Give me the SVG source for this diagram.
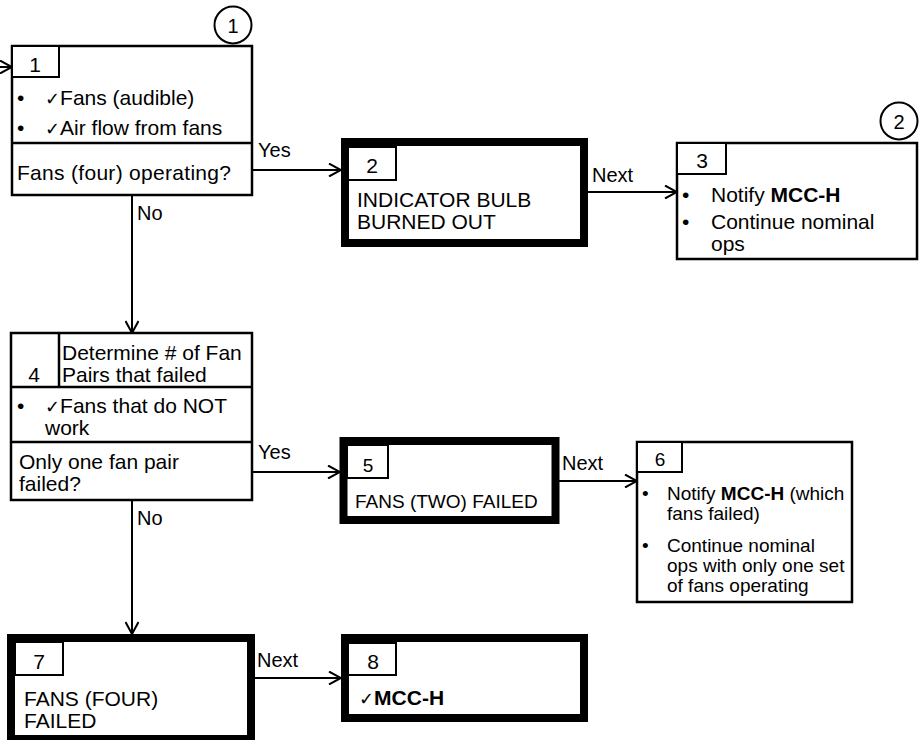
<svg xmlns="http://www.w3.org/2000/svg" width="919" height="740" viewBox="0 0 919 740">
<defs>
<marker id="arr" viewBox="0 0 14 14" refX="13" refY="7" markerWidth="14" markerHeight="14" markerUnits="userSpaceOnUse" orient="auto">
<path d="M1,0.5 L13,7 L1,13.5" fill="none" stroke="#000" stroke-width="2"/>
</marker>
<style>
text{font-family:"Liberation Sans",Arial,sans-serif;fill:#000}
.t{font-size:21px}
.s{font-size:19px}
.l{font-size:20px}
.c{text-anchor:middle}
.b{font-weight:bold}
.ck{font-family:"DejaVu Sans",sans-serif;font-size:18px;font-weight:normal}
.box{fill:#fff;stroke:#000;stroke-width:2.5}
.thick{fill:#fff;stroke:#000;stroke-width:8}
.tab{fill:#fff;stroke:#000;stroke-width:2}
.ln{fill:none;stroke:#000;stroke-width:2.5}
.con{fill:none;stroke:#000;stroke-width:2;marker-end:url(#arr)}
.circ{fill:#fff;stroke:#000;stroke-width:2}
</style>
</defs>
<rect width="919" height="740" fill="#fff"/>

<g id="connectors">
<line class="con" x1="0" y1="67" x2="12" y2="67"/>
<line class="con" x1="252" y1="170" x2="341" y2="170"/>
<text class="l" x="258" y="157">Yes</text>
<line class="con" x1="132" y1="195" x2="132" y2="333"/>
<text class="l" x="137" y="220">No</text>
<line class="con" x1="588" y1="192" x2="677" y2="192"/>
<text class="l" x="592" y="182">Next</text>
<line class="con" x1="252" y1="472" x2="340" y2="472"/>
<text class="l" x="258" y="459">Yes</text>
<line class="con" x1="132" y1="500" x2="132" y2="634"/>
<text class="l" x="137" y="525">No</text>
<line class="con" x1="559" y1="481" x2="637" y2="481"/>
<text class="l" x="562" y="470">Next</text>
<line class="con" x1="255" y1="678" x2="341" y2="678"/>
<text class="l" x="257" y="667">Next</text>
</g>

<g id="node1">
<rect class="box" x="12" y="46" width="240" height="149"/>
<rect class="tab" x="12" y="46" width="47" height="31"/>
<text class="t c" x="35" y="72">1</text>
<text class="t" x="17" y="105">•</text>
<text class="t" x="45" y="105"><tspan class="ck">✓</tspan>Fans (audible)</text>
<text class="t" x="17" y="135">•</text>
<text class="t" x="45" y="135"><tspan class="ck">✓</tspan>Air flow from fans</text>
<line class="ln" x1="12" y1="143" x2="252" y2="143"/>
<text class="t" x="17" y="180" textLength="214">Fans (four) operating?</text>
</g>
<g id="ref1">
<circle class="circ" cx="233" cy="25" r="18.5"/>
<text class="l c" x="233" y="33">1</text>
</g>

<g id="node2">
<rect class="thick" x="345" y="142" width="239" height="101"/>
<rect class="tab" x="348" y="147" width="48" height="33"/>
<text class="t c" x="372" y="173">2</text>
<text class="t" x="357" y="207">INDICATOR BULB</text>
<text class="t" x="357" y="229">BURNED OUT</text>
</g>

<g id="node3">
<rect class="box" x="677" y="143" width="240" height="116"/>
<rect class="tab" x="677" y="143" width="49" height="31"/>
<text class="t c" x="702" y="168">3</text>
<text class="t" x="682" y="202">•</text>
<text class="t" x="711" y="202">Notify <tspan class="b">MCC-H</tspan></text>
<text class="t" x="682" y="229">•</text>
<text class="t" x="711" y="229">Continue nominal</text>
<text class="t" x="711" y="251">ops</text>
</g>
<g id="ref2">
<circle class="circ" cx="899" cy="121" r="18.5"/>
<text class="l c" x="899" y="129">2</text>
</g>

<g id="node4">
<rect class="box" x="11" y="333" width="241" height="167"/>
<line class="ln" x1="59" y1="333" x2="59" y2="387"/>
<line class="ln" x1="11" y1="387" x2="252" y2="387"/>
<line class="ln" x1="11" y1="442" x2="252" y2="442"/>
<text class="t c" x="34" y="382">4</text>
<text class="t" x="62" y="360">Determine # of Fan</text>
<text class="t" x="62" y="382">Pairs that failed</text>
<text class="t" x="17" y="413">•</text>
<text class="t" x="45" y="413"><tspan class="ck">✓</tspan>Fans that do NOT</text>
<text class="t" x="45" y="435">work</text>
<text class="t" x="19" y="469">Only one fan pair</text>
<text class="t" x="19" y="491">failed?</text>
</g>

<g id="node5">
<rect class="thick" x="343.5" y="441" width="212" height="79" stroke-width="7"/>
<rect class="tab" x="347" y="445" width="41" height="33"/>
<text class="s c" x="368" y="472">5</text>
<text class="s" x="355" y="508">FANS (TWO) FAILED</text>
</g>

<g id="node6">
<rect class="box" x="637" y="442" width="215" height="160"/>
<rect class="tab" x="637" y="442" width="45" height="30"/>
<text class="s c" x="660" y="466">6</text>
<text class="s" x="642" y="500">•</text>
<text class="s" x="667" y="500">Notify <tspan class="b">MCC-H</tspan> (which</text>
<text class="s" x="667" y="520">fans failed)</text>
<text class="s" x="642" y="552">•</text>
<text class="s" x="667" y="552">Continue nominal</text>
<text class="s" x="667" y="572">ops with only one set</text>
<text class="s" x="667" y="592">of fans operating</text>
</g>

<g id="node7">
<rect class="thick" x="11" y="638" width="240" height="101"/>
<rect class="tab" x="15" y="642" width="48" height="33"/>
<text class="t c" x="39" y="669">7</text>
<text class="t" x="24" y="706">FANS (FOUR)</text>
<text class="t" x="24" y="728">FAILED</text>
</g>

<g id="node8">
<rect class="thick" x="345" y="638" width="239" height="80"/>
<rect class="tab" x="348" y="643" width="48" height="32"/>
<text class="t c" x="373" y="669">8</text>
<text class="t b" x="359" y="705"><tspan class="ck">✓</tspan>MCC-H</text>
</g>
</svg>
